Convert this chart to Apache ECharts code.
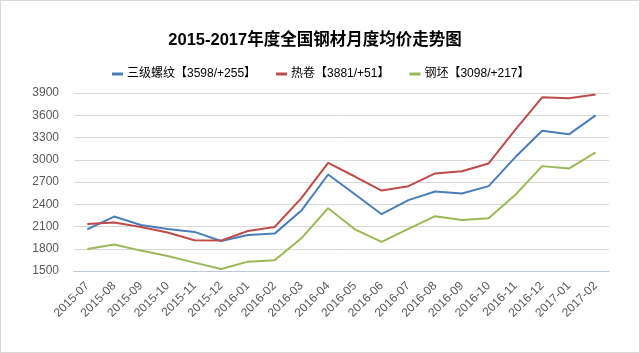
<!DOCTYPE html>
<html>
<head>
<meta charset="utf-8">
<script src="https://cdn.jsdelivr.net/npm/echarts@6/dist/echarts.min.js"></script>
<style>
  html, body { margin: 0; padding: 0; background: #fff; }
  #chart { width: 638px; height: 351px; border: 1px solid #d9d9d9; }
</style>
</head>
<body>
<div id="chart"></div>
<script>
// 月份
var months = ['2015-07', '2015-08', '2015-09', '2015-10', '2015-11', '2015-12',
  '2016-01', '2016-02', '2016-03', '2016-04', '2016-05', '2016-06',
  '2016-07', '2016-08', '2016-09', '2016-10', '2016-11', '2016-12',
  '2017-01', '2017-02'];

// 三级螺纹
var rebar = [2063, 2234, 2121, 2067, 2027, 1905, 1986, 2004, 2315, 2801,
  2534, 2266, 2455, 2572, 2545, 2644, 3036, 3391, 3343, 3598];
// 热卷
var hotCoil = [2135, 2153, 2094, 2018, 1914, 1910, 2040, 2094, 2482, 2959,
  2774, 2585, 2644, 2815, 2846, 2950, 3405, 3842, 3830, 3881];
// 钢坯
var billet = [1797, 1856, 1775, 1703, 1613, 1527, 1626, 1644, 1941, 2347,
  2062, 1892, 2067, 2239, 2189, 2211, 2527, 2914, 2881, 3098];

var seriesNames = ['三级螺纹【3598/+255】', '热卷【3881/+51】', '钢坯【3098/+217】'];
var colors = ['#4a7ebb', '#be4b48', '#98b954'];

var myChart = echarts.init(document.getElementById('chart'));
var font = '"Liberation Sans", Arial, "Noto Sans CJK SC", sans-serif';

var option = {
  animation: false,
  color: colors,
  textStyle: { fontFamily: font },
  title: {
    text: '2015-2017年度全国钢材月度均价走势图',
    left: 309,
    top: 26,
    textAlign: 'center',
    textStyle: { fontSize: 16.5, fontWeight: 'bold', color: '#000', fontFamily: font }
  },
  legend: {
    top: 62,
    left: 106,
    itemGap: 20,
    itemWidth: 11,
    itemHeight: 3,
    icon: 'rect',
    textStyle: { fontSize: 12, color: '#000', padding: [0, 0, 0, -1] },
    data: seriesNames
  },
  grid: { left: 73, right: 30, top: 92, bottom: 81 },
  xAxis: {
    type: 'category',
    data: months,
    boundaryGap: true,
    axisLine: { lineStyle: { color: '#bcc8d8', width: 1 } },
    axisTick: { alignWithLabel: true, length: 5, lineStyle: { color: '#bcc8d8' } },
    axisLabel: { rotate: 45, interval: 0, fontSize: 12, color: '#595959', margin: 13 }
  },
  yAxis: {
    type: 'value',
    min: 1500,
    max: 3900,
    interval: 300,
    axisLine: { show: false },
    axisTick: { show: false },
    axisLabel: {
      fontSize: 12, color: '#595959', margin: 15,
      formatter: function (v) { return String(v); }
    },
    splitLine: { lineStyle: { color: '#d9d9d9' } }
  },
  series: [
    { name: seriesNames[0], type: 'line', data: rebar, showSymbol: false, lineStyle: { width: 2 } },
    { name: seriesNames[1], type: 'line', data: hotCoil, showSymbol: false, lineStyle: { width: 2 } },
    { name: seriesNames[2], type: 'line', data: billet, showSymbol: false, lineStyle: { width: 2 } }
  ]
};
myChart.setOption(option);
</script>
</body>
</html>
